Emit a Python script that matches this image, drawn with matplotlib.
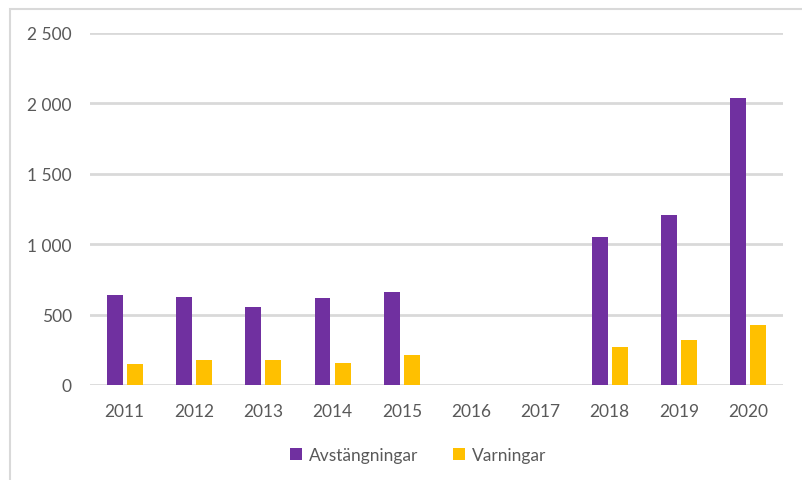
import matplotlib
matplotlib.use("Agg")
import matplotlib.pyplot as plt
import numpy as np
from matplotlib.patches import Rectangle
from matplotlib.ticker import FuncFormatter

years = ["2011", "2012", "2013", "2014", "2015", "2016", "2017", "2018", "2019", "2020"]
avstangningar = [639, 623, 554, 616, 660, np.nan, np.nan, 1053, 1205, 2036]
varningar = [147, 178, 178, 154, 213, np.nan, np.nan, 268, 320, 426]

W, H = 803, 481
fig = plt.figure(figsize=(W / 100, H / 100), dpi=100)
plt.rcParams['font.family'] = ['Lato', 'DejaVu Sans']

left, right = 90 / W, 783 / W
bottom, top = 1 - 386 / H, 1 - 34 / H
ax = fig.add_axes([left, bottom, right - left, top - bottom])

x = np.arange(len(years))
bw = 0.23
off = 0.145
purple = "#7030A0"
yellow = "#FFC000"
ax.bar(x - off, avstangningar, bw, color=purple, label="Avstängningar", zorder=3)
ax.bar(x + off, varningar, bw, color=yellow, label="Varningar", zorder=3)

ax.set_xlim(-0.5, len(years) - 0.5)
ax.set_ylim(0, 2500)
ax.set_yticks([0, 500, 1000, 1500, 2000, 2500])
ax.yaxis.set_major_formatter(FuncFormatter(lambda v, p: f"{int(v):,}".replace(",", " ")))
ax.set_xticks(x)
ax.set_xticklabels(years)
ax.grid(axis='y', color="#d9d9d9", linewidth=2, zorder=0)
ax.set_axisbelow(True)
for s in ax.spines.values():
    s.set_visible(False)
ax.tick_params(axis='both', length=0, labelsize=12.5, labelcolor="#595959")
ax.tick_params(axis='y', pad=13)
ax.tick_params(axis='x', pad=13)

leg = fig.legend(loc='center', bbox_to_anchor=(418 / W, 1 - 456 / H), ncol=2, frameon=False,
                 fontsize=12.5, handlelength=0.7, handleheight=0.7, columnspacing=2.0,
                 handletextpad=0.4)
for t in leg.get_texts():
    t.set_color("#595959")

fig.patches.append(Rectangle((10 / W, -0.1), 2, (1 - 10 / H) + 0.1, transform=fig.transFigure,
                             fill=False, edgecolor="#d9d9d9", linewidth=1.5))

fig.savefig("out.png", dpi=100)
